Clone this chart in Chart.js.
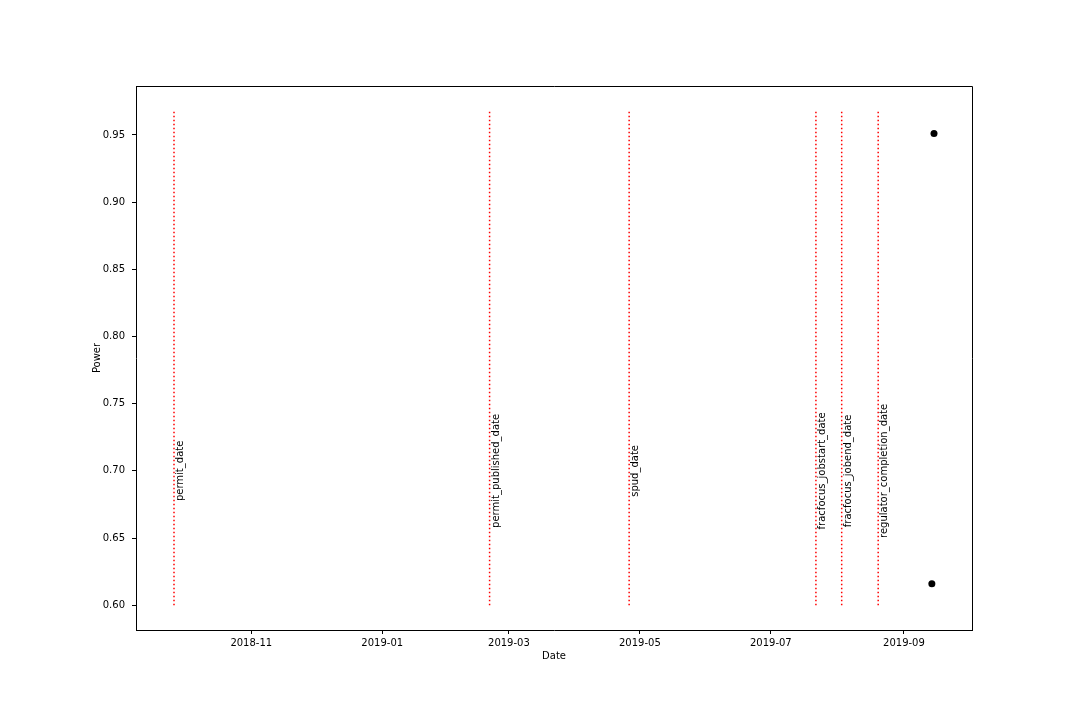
<!DOCTYPE html>
<html><head><meta charset="utf-8">
<script src="https://cdn.jsdelivr.net/npm/chart.js@4/dist/chart.umd.min.js"></script>
<style>html,body{margin:0;padding:0;background:#fff;}#wrap{width:1080px;height:720px;}</style>
</head><body><div id="wrap"><canvas id="c" width="1080" height="720"></canvas></div>
<script>
// ---- data ----
const eventLabels = ['permit_date','permit_published_date','spud_date','fracfocus_jobstart_date','fracfocus_jobend_date','regulator_completion_date'];
const eventDates = ['2018-09-26','2019-02-20','2019-04-26','2019-07-22','2019-08-03','2019-08-20'];
const eventLineFrom = 0.60;
const eventLineTo = 0.968;
const eventLabelAt = 0.70;
const pointDates = ['2019-09-15','2019-09-14'];
const powerValues = [0.951, 0.616];
const xTickLabels = ['2018-11','2019-01','2019-03','2019-05','2019-07','2019-09'];
const yTickValues = [0.60,0.65,0.70,0.75,0.80,0.85,0.90,0.95];
const xRange = ['2018-09-08T07:12:00Z','2019-10-02T16:48:00Z'];
const yRange = [0.5816, 0.9864];

const toTime = s => Date.parse(s.length === 7 ? s + '-01' : s);
const FONT = {family:'"DejaVu Sans", sans-serif', size:10};

const datasets = eventDates.map((d, i) => ({
  type:'line',
  label: eventLabels[i],
  data: [{x: toTime(d), y: eventLineFrom}, {x: toTime(d), y: eventLineTo}],
  borderColor:'#ff0000', borderWidth:1.5, borderDash:[1.5,2.5],
  pointRadius:0, fill:false
}));
datasets.push({
  type:'scatter', label:'Power',
  data: pointDates.map((d, i) => ({x: toTime(d), y: powerValues[i]})),
  backgroundColor:'#000', borderColor:'#000', pointRadius:3.5, borderWidth:0
});

const labelPlugin = {
  id:'eventLabels',
  afterDatasetsDraw(chart){
    const ctx = chart.ctx, xs = chart.scales.x, ys = chart.scales.y;
    ctx.save();
    ctx.fillStyle = '#000';
    ctx.font = '10px "DejaVu Sans", sans-serif';
    ctx.textAlign = 'center';
    ctx.textBaseline = 'top';
    eventDates.forEach((d, i) => {
      const px = xs.getPixelForValue(toTime(d)) + 1.5;
      const py = ys.getPixelForValue(eventLabelAt);
      ctx.save();
      ctx.translate(px, py);
      ctx.rotate(-Math.PI/2);
      ctx.fillText(eventLabels[i], 0, 0);
      ctx.restore();
    });
    ctx.restore();
  },
  afterDraw(chart){
    const {ctx, chartArea:a} = chart;
    ctx.save();
    ctx.strokeStyle = '#000'; ctx.lineWidth = 1;
    ctx.beginPath();
    const t = Math.round(a.top)+0.5, r = Math.round(a.right)+0.5;
    ctx.moveTo(Math.round(a.left), t); ctx.lineTo(r, t); ctx.lineTo(r, Math.round(a.bottom));
    ctx.stroke();
    ctx.restore();
  }
};

new Chart(document.getElementById('c'), {
  data:{datasets},
  options:{
    responsive:false, animation:false, devicePixelRatio:1,
    layout:{padding:{left:85, right:108, top:86, bottom:56}},
    plugins:{legend:{display:false}, tooltip:{enabled:false}},
    scales:{
      x:{
        type:'linear', min:toTime(xRange[0]), max:toTime(xRange[1]),
        afterBuildTicks(s){ s.ticks = xTickLabels.map(l => ({value: toTime(l)})); },
        afterFit(s){ s.height = 34; },
        ticks:{color:'#000', font:FONT, padding:3, maxRotation:0, autoSkip:false,
          callback(v){ const d = new Date(v); return d.getUTCFullYear() + '-' + String(d.getUTCMonth()+1).padStart(2,'0'); }},
        grid:{drawOnChartArea:false, tickLength:4, tickColor:'#000', tickWidth:1},
        border:{display:true, color:'#000', width:1},
        title:{display:true, text:'Date', color:'#000', font:FONT, padding:{top:0,bottom:2}}
      },
      y:{
        type:'linear', min:yRange[0], max:yRange[1],
        afterBuildTicks(s){ s.ticks = yTickValues.map(v => ({value:v})); },
        afterFit(s){ s.width = 51; },
        ticks:{color:'#000', font:FONT, padding:7, callback(v){ return Number(v).toFixed(2); }},
        grid:{drawOnChartArea:false, tickLength:4, tickColor:'#000', tickWidth:1},
        border:{display:true, color:'#000', width:1},
        title:{display:true, text:'Power', color:'#000', font:FONT, padding:{top:6,bottom:0}}
      }
    }
  },
  plugins:[labelPlugin]
});
</script></body></html>
